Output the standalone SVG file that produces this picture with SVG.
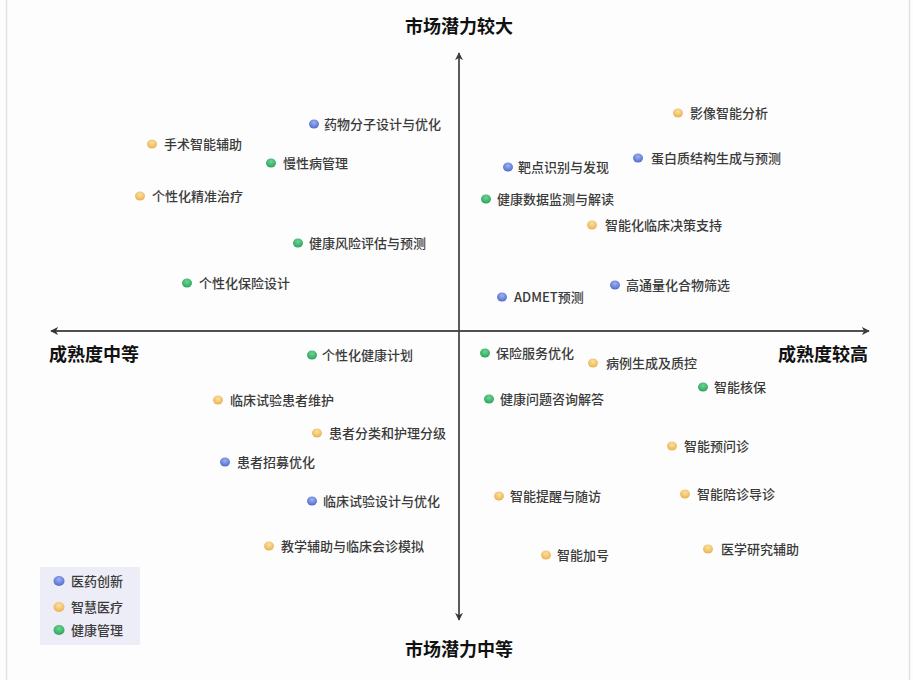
<svg xmlns="http://www.w3.org/2000/svg" width="913" height="680" viewBox="0 0 913 680">
<defs>
<style>
.lbl{font-family:"Noto Sans CJK SC","Noto Sans",sans-serif;font-size:13px;font-weight:500;fill:#3a3a3a}
.ttl{font-family:"Noto Sans CJK SC","Noto Sans",sans-serif;font-size:18px;font-weight:bold;fill:#111}
.axis{stroke:#444;stroke-width:1.3;fill:none}
</style>
<radialGradient id="gb" cx="0.5" cy="0.35" r="0.65"><stop offset="0" stop-color="#9fb1ee"/><stop offset="1" stop-color="#4f6bd0"/></radialGradient>
<radialGradient id="gy" cx="0.5" cy="0.35" r="0.65"><stop offset="0" stop-color="#fbe0a0"/><stop offset="1" stop-color="#eab251"/></radialGradient>
<radialGradient id="gg" cx="0.5" cy="0.35" r="0.65"><stop offset="0" stop-color="#6fd393"/><stop offset="1" stop-color="#2aa45c"/></radialGradient>
<marker id="arr" viewBox="0 0 10 10" refX="9" refY="5" markerWidth="8" markerHeight="8" markerUnits="userSpaceOnUse" orient="auto"><path d="M0,0 L10,5 L0,10 L3,5 Z" fill="#333"/></marker>
</defs>
<rect width="913" height="680" fill="#fdfdfd"/>
<line x1="6.5" y1="0" x2="6.5" y2="680" stroke="#e2e2e2" stroke-width="1.5"/>
<line x1="909.5" y1="0" x2="909.5" y2="680" stroke="#e2e2e2" stroke-width="1.5"/>

<g id="axes">
<line class="axis" x1="459" y1="618" x2="459" y2="53" marker-end="url(#arr)"/>
<line class="axis" x1="459" y1="53" x2="459" y2="620" marker-end="url(#arr)"/>
<line class="axis" x1="52" y1="331" x2="869" y2="331" marker-end="url(#arr)"/>
<line class="axis" x1="869" y1="331" x2="51" y2="331" marker-end="url(#arr)"/>
</g>

<g id="titles">
<text class="ttl" x="459" y="33" text-anchor="middle">市场潜力较大</text>
<text class="ttl" x="459" y="656" text-anchor="middle">市场潜力中等</text>
<text class="ttl" x="49" y="361">成熟度中等</text>
<text class="ttl" x="868" y="361" text-anchor="end">成熟度较高</text>
</g>

<g id="points">
<g id="p1"><ellipse cx="314" cy="124" rx="5" ry="4.5" fill="url(#gb)"/><text class="lbl" x="324" y="128.5">药物分子设计与优化</text></g>
<g id="p2"><ellipse cx="152" cy="144" rx="5" ry="4.5" fill="url(#gy)"/><text class="lbl" x="164" y="148.5">手术智能辅助</text></g>
<g id="p3"><ellipse cx="271" cy="163" rx="5" ry="4.5" fill="url(#gg)"/><text class="lbl" x="283" y="167.5">慢性病管理</text></g>
<g id="p4"><ellipse cx="140" cy="196" rx="5" ry="4.5" fill="url(#gy)"/><text class="lbl" x="152" y="200.5">个性化精准治疗</text></g>
<g id="p5"><ellipse cx="298" cy="243" rx="5" ry="4.5" fill="url(#gg)"/><text class="lbl" x="309" y="247.5">健康风险评估与预测</text></g>
<g id="p6"><ellipse cx="187" cy="283" rx="5" ry="4.5" fill="url(#gg)"/><text class="lbl" x="199" y="287.5">个性化保险设计</text></g>
<g id="p7"><ellipse cx="678" cy="113" rx="5" ry="4.5" fill="url(#gy)"/><text class="lbl" x="690" y="117.5">影像智能分析</text></g>
<g id="p8"><ellipse cx="638" cy="158" rx="5" ry="4.5" fill="url(#gb)"/><text class="lbl" x="651" y="162.5">蛋白质结构生成与预测</text></g>
<g id="p9"><ellipse cx="508" cy="167" rx="5" ry="4.5" fill="url(#gb)"/><text class="lbl" x="518" y="171.5">靶点识别与发现</text></g>
<g id="p10"><ellipse cx="486" cy="199" rx="5" ry="4.5" fill="url(#gg)"/><text class="lbl" x="497" y="203.5">健康数据监测与解读</text></g>
<g id="p11"><ellipse cx="592" cy="225" rx="5" ry="4.5" fill="url(#gy)"/><text class="lbl" x="605" y="229.5">智能化临床决策支持</text></g>
<g id="p12"><ellipse cx="615" cy="285" rx="5" ry="4.5" fill="url(#gb)"/><text class="lbl" x="626" y="289.5">高通量化合物筛选</text></g>
<g id="p13"><ellipse cx="502" cy="297" rx="5" ry="4.5" fill="url(#gb)"/><text class="lbl" x="514" y="301.5">ADMET预测</text></g>
<g id="p14"><ellipse cx="312" cy="355" rx="5" ry="4.5" fill="url(#gg)"/><text class="lbl" x="322" y="359.5">个性化健康计划</text></g>
<g id="p15"><ellipse cx="218" cy="400" rx="5" ry="4.5" fill="url(#gy)"/><text class="lbl" x="230" y="404.5">临床试验患者维护</text></g>
<g id="p16"><ellipse cx="317" cy="433" rx="5" ry="4.5" fill="url(#gy)"/><text class="lbl" x="329" y="437.5">患者分类和护理分级</text></g>
<g id="p17"><ellipse cx="225" cy="462" rx="5" ry="4.5" fill="url(#gb)"/><text class="lbl" x="237" y="466.5">患者招募优化</text></g>
<g id="p18"><ellipse cx="312" cy="501" rx="5" ry="4.5" fill="url(#gb)"/><text class="lbl" x="323" y="505.5">临床试验设计与优化</text></g>
<g id="p19"><ellipse cx="269" cy="546" rx="5" ry="4.5" fill="url(#gy)"/><text class="lbl" x="281" y="550.5">教学辅助与临床会诊模拟</text></g>
<g id="p20"><ellipse cx="485" cy="353" rx="5" ry="4.5" fill="url(#gg)"/><text class="lbl" x="496" y="357.5">保险服务优化</text></g>
<g id="p21"><ellipse cx="593" cy="363" rx="5" ry="4.5" fill="url(#gy)"/><text class="lbl" x="606" y="367.5">病例生成及质控</text></g>
<g id="p22"><ellipse cx="703" cy="387" rx="5" ry="4.5" fill="url(#gg)"/><text class="lbl" x="714" y="391.5">智能核保</text></g>
<g id="p23"><ellipse cx="489" cy="399" rx="5" ry="4.5" fill="url(#gg)"/><text class="lbl" x="500" y="403.5">健康问题咨询解答</text></g>
<g id="p24"><ellipse cx="672" cy="446" rx="5" ry="4.5" fill="url(#gy)"/><text class="lbl" x="684" y="450.5">智能预问诊</text></g>
<g id="p25"><ellipse cx="499" cy="496" rx="5" ry="4.5" fill="url(#gy)"/><text class="lbl" x="510" y="500.5">智能提醒与随访</text></g>
<g id="p26"><ellipse cx="685" cy="494" rx="5" ry="4.5" fill="url(#gy)"/><text class="lbl" x="697" y="498.5">智能陪诊导诊</text></g>
<g id="p27"><ellipse cx="546" cy="555" rx="5" ry="4.5" fill="url(#gy)"/><text class="lbl" x="557" y="559.5">智能加号</text></g>
<g id="p28"><ellipse cx="708" cy="549" rx="5" ry="4.5" fill="url(#gy)"/><text class="lbl" x="721" y="553.5">医学研究辅助</text></g>
</g>

<g id="legend">
<rect x="40" y="567" width="100" height="78" fill="#ededf7"/>
<ellipse cx="59" cy="581" rx="5.5" ry="5" fill="url(#gb)"/><text class="lbl" x="71" y="585.5">医药创新</text>
<ellipse cx="59" cy="607" rx="5.5" ry="5" fill="url(#gy)"/><text class="lbl" x="71" y="611.5">智慧医疗</text>
<ellipse cx="59" cy="630" rx="5.5" ry="5" fill="url(#gg)"/><text class="lbl" x="71" y="634.5">健康管理</text>
</g>
</svg>
